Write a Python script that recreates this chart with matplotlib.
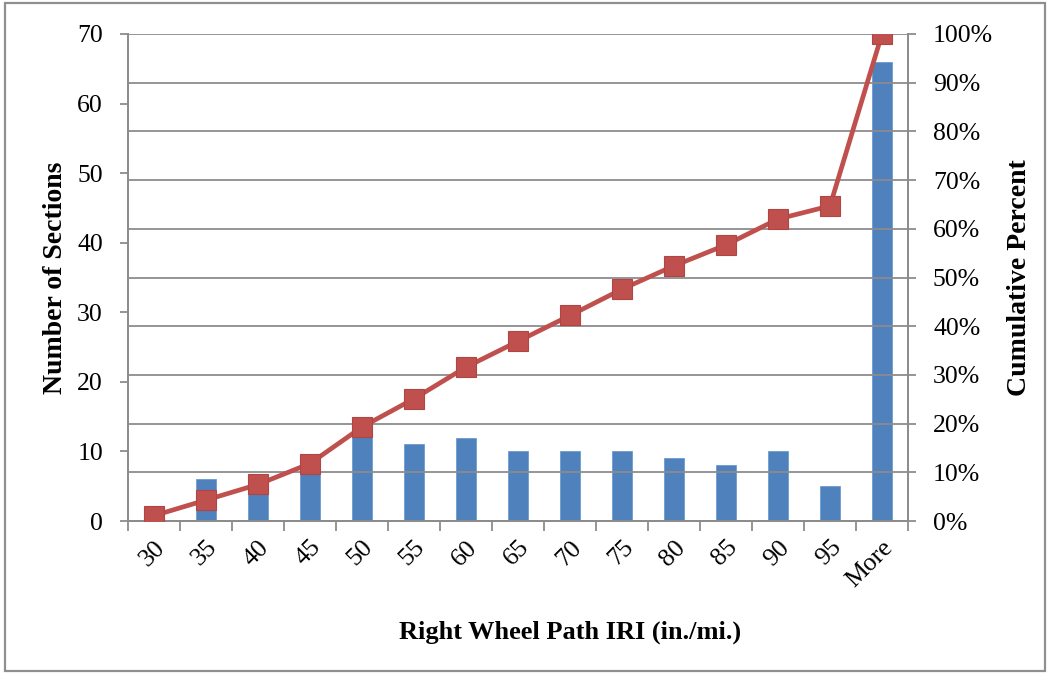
import matplotlib
matplotlib.use("Agg")
import matplotlib.pyplot as plt
from matplotlib.patches import Rectangle

# data
BINS = ["30", "35", "40", "45", "50", "55", "60", "65", "70", "75", "80", "85", "90", "95", "More"]
COUNTS = [2, 6, 6, 8, 14, 11, 12, 10, 10, 10, 9, 8, 10, 5, 66]
CUM_PCT = [1.1, 4.3, 7.5, 11.8, 19.3, 25.1, 31.6, 36.9, 42.2, 47.6, 52.4, 56.7, 62.0, 64.7, 100.0]
LEFT_TICKS = [0, 10, 20, 30, 40, 50, 60, 70]
RIGHT_TICKS = [0, 10, 20, 30, 40, 50, 60, 70, 80, 90, 100]

BLUE, RED, GRID, INK = "#4f81bd", "#c0504d", "#8c8c8c", "#000000"
plt.rcParams.update({"font.family": ["Liberation Serif", "DejaVu Serif"], "text.color": INK,
                     "xtick.color": GRID, "ytick.color": GRID,
                     "xtick.labelcolor": INK, "ytick.labelcolor": INK})

fig = plt.figure(figsize=(10.51, 6.75), dpi=100)
fig.patches.append(Rectangle((5 / 1051, 4 / 675), 1040 / 1051, 668 / 675, transform=fig.transFigure,
                             fill=False, edgecolor="#8f8f8f", linewidth=1.6))
ax = fig.add_axes([128 / 1051, 154 / 675, 780 / 1051, 487 / 675])
ax2 = ax.twinx()

x = list(range(len(BINS)))
ax.bar(x, COUNTS, width=0.4, color=BLUE, edgecolor="#6f9ad0", linewidth=0.6, zorder=3)
ax.set_xlim(-0.5, len(BINS) - 0.5)
ax.set_ylim(0, 70)
ax.set_yticks(LEFT_TICKS)
ax.tick_params(axis="y", labelsize=18.5, length=6, width=1.3, pad=12)
ax.set_xticks(x)
ax.set_xticklabels(BINS, rotation=45, ha="right", rotation_mode="anchor", fontsize=18.5)
ax.tick_params(axis="x", which="major", length=0, pad=11)
ax.set_xticks([i - 0.5 for i in range(len(BINS) + 1)], minor=True)
ax.tick_params(axis="x", which="minor", length=7, width=1.3)
ax.set_ylabel("Number of Sections", fontsize=20, fontweight="bold")
ax.yaxis.set_label_coords((68 - 128) / 780, 0.5)
ax.set_xlabel("Right Wheel Path IRI (in./mi.)", fontsize=19, fontweight="bold")
ax.xaxis.set_label_coords((570 - 128) / 780, -0.205)

ax2.set_ylim(0, 100)
ax2.set_yticks(RIGHT_TICKS)
ax2.set_yticklabels([f"{t}%" for t in RIGHT_TICKS])
ax2.tick_params(axis="y", labelsize=18.5, length=6, width=1.3, pad=12)
ax2.yaxis.grid(True, color=GRID, linewidth=1.3)
ax2.set_axisbelow(True)
ax2.plot(x, CUM_PCT, color=RED, linewidth=3.4, marker="s", markersize=14.5,
         markerfacecolor=RED, markeredgecolor="#b04643", markeredgewidth=0.8, zorder=5)
ax2.set_ylabel("Cumulative Percent", fontsize=20, fontweight="bold", labelpad=10)

for a in (ax, ax2):
    a.spines["top"].set_visible(False)
    for s in ("left", "right", "bottom"):
        a.spines[s].set_color(GRID)
        a.spines[s].set_linewidth(1.3)
ax.set_zorder(ax2.get_zorder() - 1)
ax2.patch.set_visible(False)
ax.patch.set_visible(False)

fig.savefig("out.png", dpi=100)
